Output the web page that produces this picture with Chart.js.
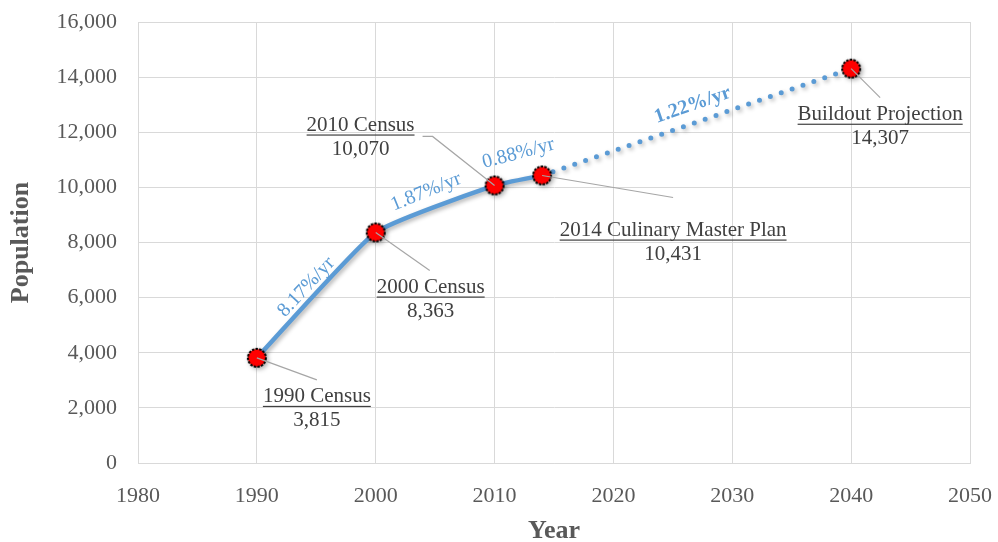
<!DOCTYPE html>
<html>
<head>
<meta charset="utf-8">
<script src="https://cdn.jsdelivr.net/npm/chart.js@4"></script>
<style>
  body { margin: 0; background: #fff; }
  #wrap { width: 998px; height: 542px; }
</style>
</head>
<body>
<div id="wrap"><canvas id="chart" width="998" height="542"></canvas></div>
<script>
// observed population
const years = [1990, 2000, 2010, 2014];
const population = [3815, 8363, 10070, 10431];
// projection
const projYears = [2014, 2040];
const projPopulation = [10431, 14307];
// point callouts
const pointYears = [1990, 2000, 2010, 2014, 2040];
const pointValues = [3815, 8363, 10070, 10431, 14307];
const pointNames = ['1990 Census', '2000 Census', '2010 Census', '2014 Culinary Master Plan', 'Buildout Projection'];
// growth rate per segment
const rateLabels = ['8.17%/yr', '1.87%/yr', '0.88%/yr', '1.22%/yr'];

const blue = '#5B9BD5';
const serif = '"Liberation Serif", "Times New Roman", serif';

// red marker with dashed black rim
let marker = document.createElement('canvas');
marker.width = 22; marker.height = 22;
let m = marker.getContext('2d');
m.beginPath();
m.arc(11, 11, 9, 0, Math.PI * 2);
m.fillStyle = '#FF0000';
m.fill();
m.setLineDash([2.5, 1.2]);
m.lineWidth = 2;
m.strokeStyle = '#000';
m.stroke();

// callout offsets in px from the data point: [labelDx, labelDy, leader points...]
const callouts = [
  { dx: 60, dy: 39, leader: [[60, 22]] },
  { dx: 55, dy: 55, leader: [[54, 38]] },
  { dx: -134, dy: -60, leader: [[-62, -49], [-72, -49]] },
  { dx: 131, dy: 55, leader: [[131, 22]] },
  { dx: 29, dy: 46, leader: [[29, 29]] }
];
// rate label offsets from segment midpoint + rotation
const rateSpots = [
  { dx: -10, dy: -8, rot: -47, bold: false },
  { dx: -9, dy: -17, rot: -22, bold: false },
  { dx: 0, dy: -27, rot: -15, bold: false },
  { dx: -4, dy: -17, rot: -19, bold: true }
];

const shadowPlugin = {
  id: 'shadow',
  beforeDatasetDraw(chart) {
    let c = chart.ctx;
    c.save();
    c.shadowColor = 'rgba(0,0,0,0.3)';
    c.shadowBlur = 4;
    c.shadowOffsetX = 2;
    c.shadowOffsetY = 2;
  },
  afterDatasetDraw(chart) {
    chart.ctx.restore();
  }
};

const labelPlugin = {
  id: 'labels',
  afterDatasetsDraw(chart) {
    let c = chart.ctx;
    let xs = chart.scales.x, ys = chart.scales.y;
    let px = (x, y) => [xs.getPixelForValue(x), ys.getPixelForValue(y)];
    c.save();

    // leaders + callouts
    pointYears.forEach((yr, i) => {
      let [x, y] = px(yr, pointValues[i]);
      let co = callouts[i];
      c.beginPath();
      c.moveTo(x, y);
      co.leader.forEach(p => c.lineTo(x + p[0], y + p[1]));
      c.strokeStyle = '#A6A6A6';
      c.lineWidth = 1.2;
      c.stroke();

      let lx = x + co.dx, ly = y + co.dy;
      c.font = '21px ' + serif;
      c.fillStyle = '#404040';
      c.textAlign = 'center';
      c.textBaseline = 'middle';
      c.fillText(pointNames[i], lx, ly);
      let w = c.measureText(pointNames[i]).width;
      c.fillRect(lx - w / 2, ly + 9, w, 1.2);
      c.fillText(pointValues[i].toLocaleString('en-US'), lx, ly + 24);
    });

    // growth rates along the line
    let segX = years.concat([projYears[1]]);
    let segY = population.concat([projPopulation[1]]);
    rateLabels.forEach((txt, i) => {
      let [x0, y0] = px(segX[i], segY[i]);
      let [x1, y1] = px(segX[i + 1], segY[i + 1]);
      let s = rateSpots[i];
      c.save();
      c.translate((x0 + x1) / 2 + s.dx, (y0 + y1) / 2 + s.dy);
      c.rotate(s.rot * Math.PI / 180);
      c.font = (s.bold ? 'bold ' : '') + '20px ' + serif;
      c.fillStyle = blue;
      c.textAlign = 'center';
      c.textBaseline = 'middle';
      c.fillText(txt, 0, 0);
      c.restore();
    });
    c.restore();
  }
};

let ctx = document.getElementById('chart').getContext('2d');

let chart = new Chart(ctx, {
  type: 'line',
  data: {
    datasets: [{
      data: years.map((yr, i) => ({ x: yr, y: population[i] })),
      borderColor: blue,
      borderWidth: 4.5,
      tension: 0.15,
      pointStyle: marker,
      pointRadius: 11
    }, {
      data: projYears.map((yr, i) => ({ x: yr, y: projPopulation[i] })),
      borderColor: blue,
      borderWidth: 5,
      borderDash: [0, 11.5],
      borderCapStyle: 'round',
      tension: 0,
      pointStyle: marker,
      pointRadius: [0, 11]
    }]
  },
  options: {
    animation: false,
    responsive: false,
    layout: { padding: { top: 22, right: 28, left: 0, bottom: 0 } },
    plugins: { legend: { display: false }, tooltip: { enabled: false } },
    scales: {
      x: {
        type: 'linear',
        min: 1980, max: 2050,
        afterFit: s => { s.height = 79; s.paddingLeft = 0; s.paddingRight = 0; },
        ticks: { stepSize: 10, padding: 20, color: '#595959',
                 font: { family: serif, size: 22 },
                 callback: v => String(v) },
        grid: { color: '#D9D9D9', drawTicks: false },
        border: { color: '#D9D9D9' },
        title: { display: true, text: 'Year', color: '#595959',
                 font: { family: serif, size: 26, weight: 'bold', lineHeight: 0.8 },
                 padding: { top: 0, bottom: 0 } }
      },
      y: {
        min: 0, max: 16000,
        afterFit: s => { s.width = 138; s.paddingTop = 0; s.paddingBottom = 0; },
        ticks: { stepSize: 2000, padding: 21, color: '#595959',
                 font: { family: serif, size: 22 },
                 callback: v => v.toLocaleString('en-US') },
        grid: { color: '#D9D9D9', drawTicks: false },
        border: { color: '#D9D9D9' },
        title: { display: true, text: 'Population', color: '#595959',
                 font: { family: serif, size: 26, weight: 'bold' },
                 padding: { top: 6, bottom: 0 } }
      }
    }
  },
  plugins: [shadowPlugin, labelPlugin]
});
</script>
</body>
</html>
